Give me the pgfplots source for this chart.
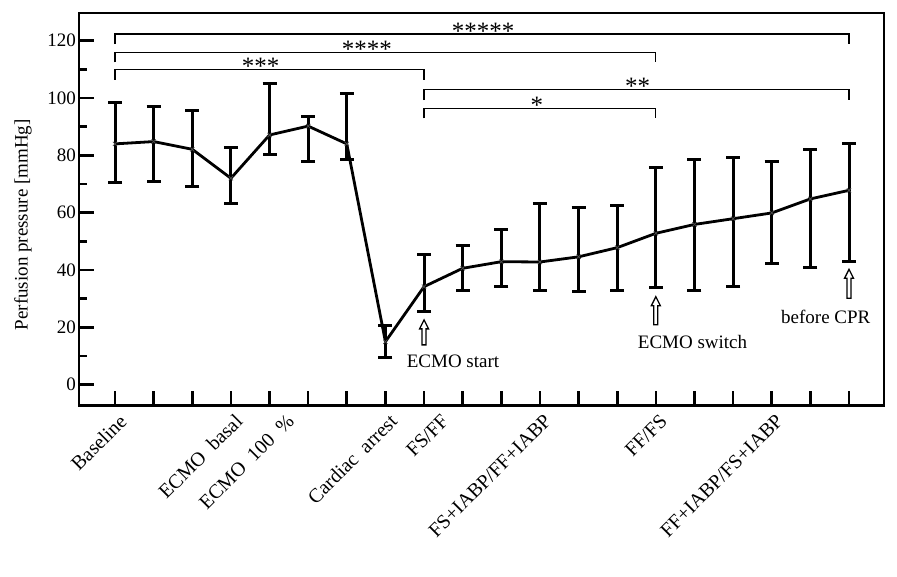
\documentclass[border=0pt]{standalone}
\usepackage{fontspec}
\setmainfont{Liberation Serif}
\usepackage{pgfplots}
\pgfplotsset{compat=1.18}
\usepackage{pgfplotstable}

\pgfplotstableread{
x y ep em
0 84.0 14.3 13.5
1 84.8 12.1 13.9
2 82.1 13.5 12.8
3 72.0 10.7 8.7
4 87.1 17.9 6.7
5 90.2 3.3 12.5
6 84.0 17.7 5.4
7 15.0 5.5 5.6
8 34.2 11.1 8.5
9 40.6 8.1 7.7
10 42.9 11.3 8.8
11 42.8 20.5 10.1
12 44.6 17.3 12.2
13 47.8 14.8 15.0
14 52.8 23.0 18.8
15 55.9 22.7 22.9
16 57.9 21.2 23.5
17 59.9 17.8 17.8
18 64.8 17.2 24.0
19 67.8 16.2 24.7
}\datatable

\newcommand{\fs}{\fontsize{19}{22}\selectfont}
\newcommand{\fx}{\fontsize{20}{23}\selectfont}
\newcommand{\fa}{\fontsize{25}{27}\selectfont}
\newcommand{\uparr}[3]{%
  \draw[line width=1.3pt, fill=white] (axis cs:#1,#2) -- ++(canvas cs:x=4.5pt,y=-9pt) -- ++(canvas cs:x=-2.5pt,y=0pt) -- ++(canvas cs:x=0pt,y=-#3) -- ++(canvas cs:x=-4pt,y=0pt) -- ++(canvas cs:x=0pt,y=#3) -- ++(canvas cs:x=-2.5pt,y=0pt) -- cycle;}

\begin{document}
\begin{tikzpicture}
\begin{axis}[
  scale only axis, width=805pt, height=392.7pt,
  xmin=-0.932, xmax=19.906, ymin=-7.33, ymax=129.65,
  font=\fs,
  tick label style={font=\fs},
  label style={font=\fs},
  axis line style={line width=2.6pt},
  tick style={line width=2.6pt, black},
  tick align=inside,
  xtick pos=bottom, ytick pos=left,
  major tick length=15pt, minor tick length=8pt,
  ytick={0,20,...,120}, minor y tick num=1,
  yticklabels={0,20,40,60,80,100,120},
  xtick={0,...,19},
  xticklabels={Baseline,,,ECMO\ \ basal,,,,Cardiac\ \ arrest,,,,FS+IABP/FF+IABP,,,FF/FS,,,FF+IABP/FS+IABP,,},
  extra x ticks={4.34,8.34},
  extra x tick labels={ECMO\ \ 100\ \ \%, FS/FF},
  extra x tick style={major tick length=0pt},
  x tick label style={xshift=3pt, yshift=-7pt, rotate=45, anchor=north east, inner sep=0pt, font=\fx},
  y tick label style={inner sep=0pt, xshift=-3pt, font=\fs},
  ylabel={Perfusion pressure [mmHg]},
  ylabel style={at={(axis description cs:-0.0696,0.4607)}, anchor=center},
  clip=false,
]
\addplot[black, line width=2.8pt, mark=x, mark size=3pt,
  mark options={line width=0.7pt, black!70},
  error bars/.cd, y dir=both, y explicit,
  error bar style={line width=3pt, black},
  error mark options={rotate=90, mark size=7pt, line width=3pt, black}]
  table[x=x, y=y, y error plus=ep, y error minus=em] {\datatable};

% significance brackets
\draw[line width=1.2pt] (axis cs:0,118.8) -- (axis cs:0,122.3) -- (axis cs:19,122.3) -- (axis cs:19,118.8);
\draw[line width=1.2pt] (axis cs:0,112.4) -- (axis cs:0,116.0) -- (axis cs:14,116.0) -- (axis cs:14,112.4);
\draw[line width=1.2pt] (axis cs:0,106.3) -- (axis cs:0,110.0) -- (axis cs:8,110.0) -- (axis cs:8,106.3);
\draw[line width=1.2pt] (axis cs:8,99.3) -- (axis cs:8,103.0) -- (axis cs:19,103.0) -- (axis cs:19,99.3);
\draw[line width=1.2pt] (axis cs:8,92.9) -- (axis cs:8,96.3) -- (axis cs:14,96.3) -- (axis cs:14,92.9);
\node[anchor=base, font=\fa, inner sep=0pt, yshift=-5pt] at (axis cs:9.53,122.3) {*****};
\node[anchor=base, font=\fa, inner sep=0pt, yshift=-5pt] at (axis cs:6.52,116.0) {****};
\node[anchor=base, font=\fa, inner sep=0pt, yshift=-5pt] at (axis cs:3.77,110.0) {***};
\node[anchor=base, font=\fa, inner sep=0pt, yshift=-5pt] at (axis cs:13.53,103.0) {**};
\node[anchor=base, font=\fa, inner sep=0pt, yshift=-5pt] at (axis cs:10.92,96.3) {*};

% arrows
\uparr{8}{22.6}{16pt}
\uparr{14}{30.7}{19pt}
\uparr{19}{40.25}{20pt}
\node[font=\fs] at (axis cs:8.75,8.0) {ECMO start};
\node[font=\fs] at (axis cs:14.95,15.0) {ECMO switch};
\node[font=\fs] at (axis cs:18.40,23.7) {before CPR};
\end{axis}
\pgfresetboundingbox
\path[use as bounding box] (-79pt,-170.3pt) rectangle (818pt,405.7pt);
\end{tikzpicture}
\end{document}
